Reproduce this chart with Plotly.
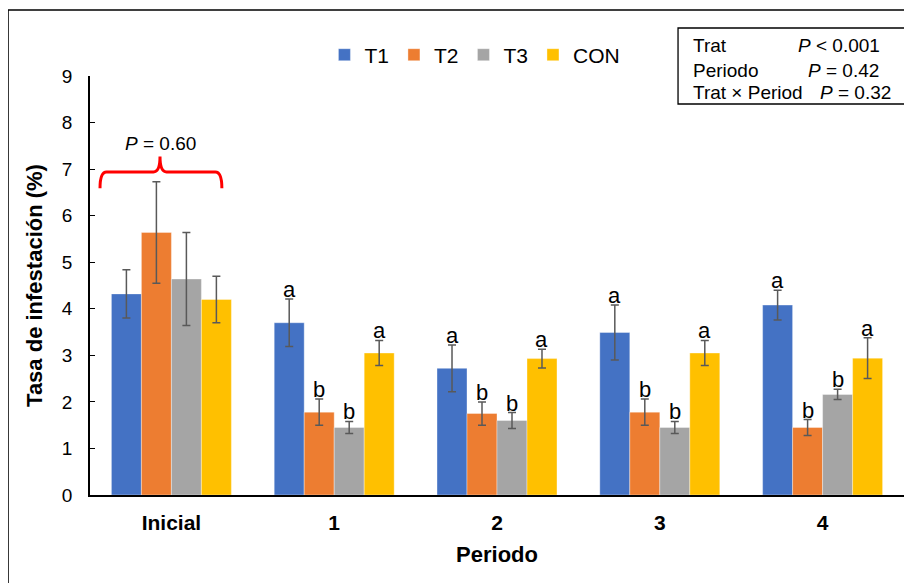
import plotly.graph_objects as go

categories = ["Inicial", "1", "2", "3", "4"]
series_names = ["T1", "T2", "T3", "CON"]
colors = ["#4472C4", "#ED7D31", "#A5A5A5", "#FFC000"]

t1_vals = [4.32, 3.70, 2.72, 3.49, 4.08]
t2_vals = [5.64, 1.78, 1.75, 1.78, 1.45]
t3_vals = [4.64, 1.45, 1.60, 1.45, 2.16]
con_vals = [4.20, 3.05, 2.93, 3.05, 2.94]

t1_err = [0.52, 0.51, 0.50, 0.59, 0.32]
t2_err = [1.09, 0.28, 0.25, 0.28, 0.17]
t3_err = [1.00, 0.13, 0.17, 0.13, 0.11]
con_err = [0.50, 0.27, 0.20, 0.27, 0.44]

t1_letters = ["", "a", "a", "a", "a"]
t2_letters = ["", "b", "b", "b", "b"]
t3_letters = ["", "b", "b", "b", "b"]
con_letters = ["", "a", "a", "a", "a"]

values = [t1_vals, t2_vals, t3_vals, con_vals]
errors = [t1_err, t2_err, t3_err, con_err]
letters = [t1_letters, t2_letters, t3_letters, con_letters]

stats_labels = ["Trat", "Periodo", "Trat × Period"]
stats_p = ["<i>P</i> < 0.001", "<i>P</i> = 0.42", "<i>P</i> = 0.32"]
initial_p = "<i>P</i> = 0.60"

FONT = "Arial, Liberation Sans, sans-serif"
BARGAP = 0.263

fig = go.Figure()
for name, col, v, e in zip(series_names, colors, values, errors):
    fig.add_trace(go.Bar(
        x=categories, y=v, name=name,
        marker=dict(color=col, line=dict(color="rgba(255,255,255,0.6)", width=0.6)),
        error_y=dict(type="data", array=e, visible=True, color="#595959",
                     thickness=1.5, width=4),
    ))

# significance letters above error bars
bw = (1 - BARGAP) / 4
for s, (v, e, lt) in enumerate(zip(values, errors, letters)):
    off = (s - 1.5) * bw
    for i in range(len(categories)):
        if lt[i]:
            fig.add_annotation(x=i + off, y=v[i] + e[i], xref="x", yref="y",
                               text=lt[i], showarrow=False, xanchor="center",
                               yanchor="bottom", yshift=-5,
                               font=dict(size=22, family=FONT, color="#000"))

shapes = []
# red brace over Inicial
x0, xc, x1, r = 0.0123, 0.0860, 0.1620, 0.008
yt, ye, ytip = 6.94, 6.59, 7.27
path = (f"M{x0},{ye} Q{x0},{yt} {x0+r},{yt} L{xc-r},{yt} Q{xc},{yt} {xc},{ytip} "
        f"Q{xc},{yt} {xc+r},{yt} L{x1-r},{yt} Q{x1},{yt} {x1},{ye}")
shapes.append(dict(type="path", path=path, xref="paper", yref="y",
                   line=dict(color="#FF0000", width=3)))
# stats box
shapes.append(dict(type="rect", xref="paper", yref="paper", x0=0.7224, x1=1.02,
                   y0=0.9332, y1=1.1146, line=dict(color="#000", width=1.3)))
# outer chart border
shapes.append(dict(type="rect", xref="paper", yref="paper", x0=-0.1007, x1=1.03,
                   y0=-0.25, y1=1.1575, line=dict(color="#000", width=1.5)))

fig.add_annotation(x=0.0872, y=7.56, xref="paper", yref="y", text=initial_p,
                   showarrow=False, xanchor="center", yanchor="middle",
                   font=dict(size=19, family=FONT, color="#000"))

row_y = [1.0716, 1.0143, 0.9618]
p_x = [0.8673, 0.8796, 0.8943]
for lab, p, yy, px in zip(stats_labels, stats_p, row_y, p_x):
    fig.add_annotation(x=0.7383, y=yy, xref="paper", yref="paper", text=lab,
                       showarrow=False, xanchor="left", yanchor="middle",
                       font=dict(size=19, family=FONT, color="#000"))
    fig.add_annotation(x=px, y=yy, xref="paper", yref="paper", text=p,
                       showarrow=False, xanchor="left", yanchor="middle",
                       font=dict(size=19, family=FONT, color="#000"))

fig.update_layout(
    width=904, height=575,
    margin=dict(l=82, r=8, t=68, b=88, autoexpand=False),
    paper_bgcolor="white", plot_bgcolor="white",
    barmode="group", bargap=BARGAP, bargroupgap=0,
    font=dict(family=FONT, color="#000"),
    shapes=shapes,
    showlegend=True,
    legend=dict(orientation="h", x=0.288, y=1.05, xanchor="left", yanchor="middle",
                font=dict(size=21, family=FONT, color="#000"),
                bgcolor="rgba(0,0,0,0)"),
    xaxis=dict(showline=True, linecolor="#000", linewidth=2, ticks="",
               tickfont=dict(size=21, family=FONT, color="#000", weight="bold"),
               ticklabelstandoff=8,
               title=dict(text="<b>Periodo</b>", font=dict(size=22, family=FONT, color="#000"),
                          standoff=13)),
    yaxis=dict(range=[0, 9], dtick=1, showline=True, linecolor="#000", linewidth=1.5,
               ticks="inside", ticklen=5, tickcolor="#000", showgrid=False, zeroline=False,
               tickfont=dict(size=19, family=FONT, color="#000"),
               ticklabelstandoff=12,
               title=dict(text="<b>Tasa de infestación (%)</b>",
                          font=dict(size=22, family=FONT, color="#000"), standoff=13)),
)

fig.write_html("out.html")
